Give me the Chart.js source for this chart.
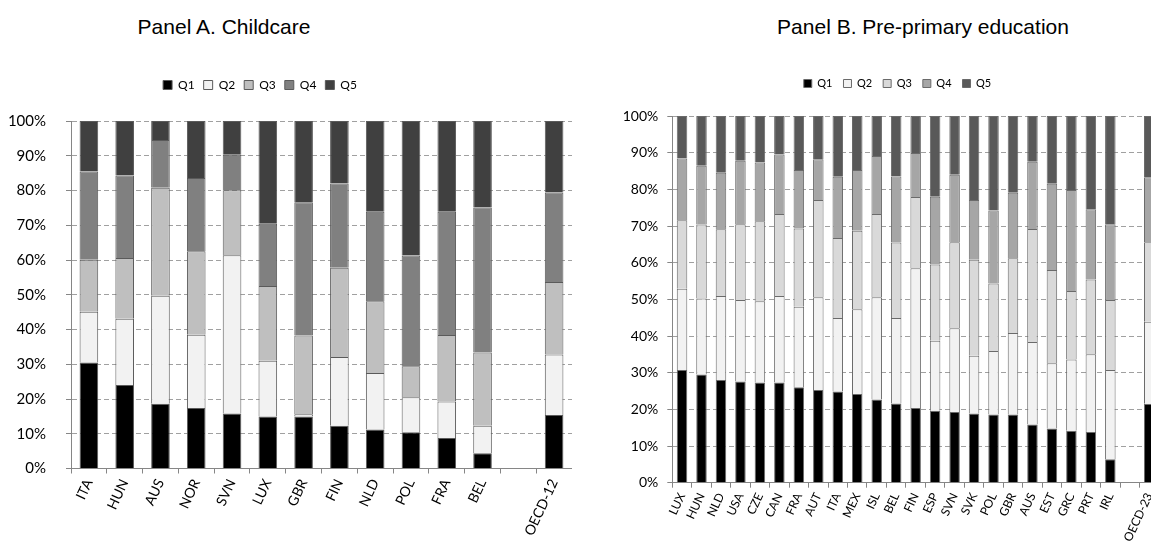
<!DOCTYPE html>
<html><head><meta charset="utf-8">
<script src="https://cdn.jsdelivr.net/npm/chart.js@4.4.0/dist/chart.umd.min.js"></script>
<style>
html,body{margin:0;padding:0;background:#fff;width:1151px;height:545px;overflow:hidden;position:relative;}
.title{position:absolute;top:15px;font-family:"Liberation Sans",Arial,sans-serif;font-size:21px;color:#000;white-space:nowrap;transform:translateX(-50%);line-height:24px;}
#cA{position:absolute;left:-52px;top:0;}
#cB{position:absolute;left:560px;top:0;}
</style></head>
<body>
<div class="title" style="left:224px">Panel A. Childcare</div>
<div class="title" style="left:923px">Panel B. Pre-primary education</div>
<canvas id="cA" width="624" height="545"></canvas>
<canvas id="cB" width="635" height="545"></canvas>
<script>
// ---------- data ----------
const quintiles = ['Q1', 'Q2', 'Q3', 'Q4', 'Q5'];
const yTickValues = [0, 10, 20, 30, 40, 50, 60, 70, 80, 90, 100];

// Panel A. Childcare (share of users by income quintile, %)
const childcareCountries = ['ITA','HUN','AUS','NOR','SVN','LUX','GBR','FIN','NLD','POL','FRA','BEL','','OECD-12'];
const childcareQ1 = [30.5, 24.0, 18.6, 17.4, 15.8, 15.0, 15.0, 12.3, 11.2, 10.4,  8.8,  4.4, null, 15.4];
const childcareQ2 = [14.6, 19.1, 31.1, 21.1, 45.6, 16.0,  0.6, 19.8, 16.3, 10.1, 10.5,  7.9, null, 17.4];
const childcareQ3 = [15.0, 17.5, 31.1, 24.0, 18.7, 21.5, 22.7, 25.7, 20.6,  8.9, 19.1, 21.1, null, 20.9];
const childcareQ4 = [25.4, 23.7, 13.7, 21.1, 10.2, 17.9, 38.3, 24.2, 25.8, 31.9, 35.5, 41.7, null, 25.7];
const childcareQ5 = [14.5, 15.7,  5.5, 16.4,  9.7, 29.6, 23.4, 18.0, 26.1, 38.7, 26.1, 24.9, null, 20.6];

// Panel B. Pre-primary education (share of users by income quintile, %)
const preprimaryCountries = ['LUX','HUN','NLD','USA','CZE','CAN','FRA','AUT','ITA','MEX','ISL','BEL','FIN','ESP','SVN','SVK','POL','GBR','AUS','EST','GRC','PRT','IRL','','OECD-23'];
const preprimaryQ1 = [30.7, 29.5, 28.0, 27.6, 27.3, 27.3, 26.0, 25.3, 24.9, 24.2, 22.7, 21.6, 20.4, 19.6, 19.3, 18.9, 18.6, 18.6, 15.9, 14.8, 14.2, 13.8,  6.4, null, 21.5];
const preprimaryQ2 = [22.2, 20.7, 22.9, 22.2, 22.2, 23.6, 22.0, 25.3, 20.0, 23.1, 27.9, 23.3, 38.1, 19.1, 22.8, 15.7, 17.3, 22.2, 22.5, 17.8, 19.4, 21.2, 24.3, null, 22.4];
const preprimaryQ3 = [18.7, 20.2, 18.2, 20.7, 21.8, 22.4, 21.3, 26.5, 21.8, 21.4, 22.7, 20.6, 19.4, 20.8, 23.5, 26.2, 18.4, 20.4, 30.8, 25.4, 18.7, 20.4, 19.1, null, 21.7];
const preprimaryQ4 = [16.8, 16.0, 15.4, 17.3, 16.0, 16.2, 16.0, 11.1, 16.7, 16.6, 15.8, 18.0, 12.0, 18.5, 18.4, 16.3, 19.9, 17.9, 18.3, 23.5, 27.5, 19.2, 20.7, null, 17.7];
const preprimaryQ5 = [11.6, 13.6, 15.5, 12.2, 12.7, 10.5, 14.7, 11.8, 16.6, 14.7, 10.9, 16.5, 10.1, 22.0, 16.0, 22.9, 25.8, 20.9, 12.5, 18.5, 20.2, 25.4, 29.5, null, 16.7];

// ---------- styles ----------
const colorsA = ['#000000', '#f2f2f2', '#bfbfbf', '#808080', '#404040'];
const colorsB = ['#000000', '#f2f2f2', '#d9d9d9', '#a6a6a6', '#595959'];
const tickFont = '"Lato", "Carlito", "Liberation Sans", sans-serif';

const plotBorderRight = {
  id: 'plotBorderRight',
  afterDatasetsDraw(chart) {
    const {ctx, chartArea} = chart;
    ctx.save();
    ctx.strokeStyle = '#868686';
    ctx.lineWidth = 1;
    ctx.beginPath();
    ctx.moveTo(Math.round(chartArea.right) + 0.5, chartArea.top);
    ctx.lineTo(Math.round(chartArea.right) + 0.5, chartArea.bottom);
    ctx.stroke();
    ctx.restore();
  }
};

function makeChart(canvasId, cfg) {
  const datasets = cfg.series.map((values, i) => ({
    label: quintiles[i],
    data: values,
    backgroundColor: cfg.colors[i],
    borderColor: cfg.border,
    borderWidth: 1,
    barPercentage: cfg.barPct,
    categoryPercentage: 1,
    xAxisID: 'x',
    yAxisID: 'y'
  }));
  return new Chart(document.getElementById(canvasId), {
    type: 'bar',
    data: { labels: cfg.labels, datasets },
    plugins: [plotBorderRight],
    options: {
      responsive: false,
      animation: false,
      events: [],
      layout: { padding: { top: cfg.padTop, left: cfg.padLeft, right: 0, bottom: 0 } },
      plugins: {
        tooltip: { enabled: false },
        title: { display: false },
        legend: {
          display: true,
          position: 'top',
          labels: {
            boxWidth: cfg.legendBox,
            boxHeight: cfg.legendBox,
            padding: cfg.legendPad,
            color: '#000',
            font: { family: tickFont, size: cfg.legendFont }
          }
        }
      },
      scales: {
        x: {
          stacked: true,
          position: 'bottom',
          grid: { drawOnChartArea: false, drawTicks: true, tickLength: 5, tickColor: '#868686', offset: true },
          border: { display: true, color: '#868686', width: 1 },
          ticks: {
            autoSkip: false, minRotation: 65, maxRotation: 65, padding: 3,
            color: '#000', font: { family: tickFont, size: cfg.xFont }
          },
          afterFit(s) { s.height = cfg.xHeight; s.paddingLeft = 0; s.paddingRight = 0; }
        },
        spacer: {
          type: 'category', axis: 'x', position: 'top', labels: [''],
          grid: { display: false, drawTicks: false }, border: { display: false },
          ticks: { display: false },
          afterFit(s) { s.height = cfg.spacer; }
        },
        y: {
          stacked: true, min: 0, max: 100,
          afterBuildTicks(s) { s.ticks = yTickValues.map(v => ({ value: v })); },
          grid: { color: '#a0a0a0', lineWidth: 1, drawTicks: true, tickLength: 5, tickColor: '#868686' },
          border: { display: true, color: '#868686', width: 1, dash: [5, 3] },
          ticks: {
            padding: cfg.yPad, color: '#000',
            font: { family: tickFont, size: cfg.yFont },
            callback: v => v + '%'
          },
          afterFit(s) { s.width = cfg.yWidth; }
        },
        spacerRight: {
          type: 'linear', axis: 'y', position: 'right', display: cfg.rightSpace > 0,
          grid: { display: false, drawTicks: false }, border: { display: false },
          ticks: { display: false },
          afterFit(s) { s.width = cfg.rightSpace; }
        }
      }
    }
  });
}

makeChart('cA', {
  labels: childcareCountries,
  series: [childcareQ1, childcareQ2, childcareQ3, childcareQ4, childcareQ5],
  colors: colorsA, border: '#5a5a5a', barPct: 0.52,
  padTop: 70, padLeft: 0, legendBox: 9, legendPad: 9, legendFont: 12,
  spacer: 20, xHeight: 76.5, xFont: 14, yFont: 15, yPad: 20, yWidth: 123, rightSpace: 0
});

makeChart('cB', {
  labels: preprimaryCountries,
  series: [preprimaryQ1, preprimaryQ2, preprimaryQ3, preprimaryQ4, preprimaryQ5],
  colors: colorsB, border: '#6a6a6a', barPct: 0.54,
  padTop: 67, padLeft: 40, legendBox: 8, legendPad: 11, legendFont: 11,
  spacer: 17, xHeight: 62.3, xFont: 12, yFont: 14, yPad: 9, yWidth: 72.3, rightSpace: 36
});
</script>
</body></html>
